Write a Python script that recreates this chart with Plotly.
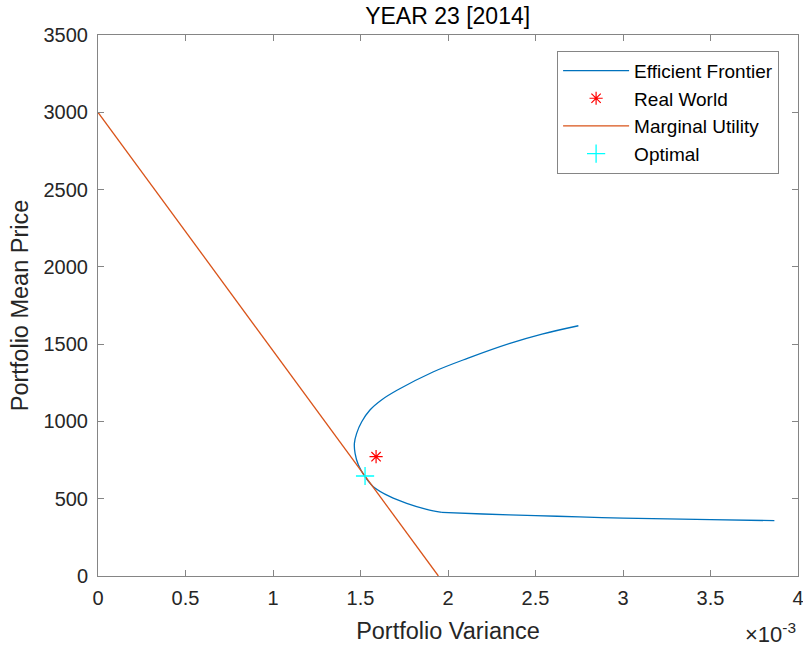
import plotly.graph_objects as go

# Efficient frontier (variance, mean price): curved part down to the kink
frontier_var = [2.745e-3, 2.537e-3, 2.354e-3, 2.111e-3, 1.914e-3, 1.711e-3, 1.620e-3, 1.554e-3,
                1.507e-3, 1.478e-3, 1.465e-3, 1.469e-3, 1.488e-3, 1.526e-3, 1.573e-3, 1.669e-3,
                1.764e-3, 1.878e-3, 1.965e-3]
frontier_mean = [1619, 1565, 1505, 1408, 1320, 1203, 1139, 1074,
                 998, 923, 858, 794, 718, 642, 578, 513,
                 470, 431, 412]
# Efficient frontier: flat tail after the kink
tail_var = [1.965e-3, 2.2e-3, 2.5e-3, 2.75e-3, 3.0e-3, 3.5e-3, 3.865e-3]
tail_mean = [412, 401, 391, 382, 375, 365, 358]

real_var = [1.589e-3]
real_mean = [772]

mu_var = [0.0, 1.945e-3]
mu_mean = [3000, 0]

opt_var = [1.526e-3]
opt_mean = [647]

x_ticks = [0, 0.5e-3, 1e-3, 1.5e-3, 2e-3, 2.5e-3, 3e-3, 3.5e-3, 4e-3]
x_ticktext = ["0", "0.5", "1", "1.5", "2", "2.5", "3", "3.5", "4"]
y_ticks = [0, 500, 1000, 1500, 2000, 2500, 3000, 3500]

FONT = "Liberation Sans, Arial, Helvetica, sans-serif"
TXT = "#262626"
AX = "#858585"
BLUE = "#0072BD"

fig = go.Figure()
fig.add_trace(go.Scatter(x=frontier_var, y=frontier_mean, mode="lines",
                         line=dict(color=BLUE, width=1.3, shape="spline", smoothing=1.0),
                         name="Efficient Frontier", legendgroup="ef"))
fig.add_trace(go.Scatter(x=real_var, y=real_mean, mode="markers",
                         marker=dict(symbol="asterisk-open", size=11, color="red",
                                     line=dict(color="red", width=1.2)), name="Real World"))
fig.add_trace(go.Scatter(x=mu_var, y=mu_mean, mode="lines",
                         line=dict(color="#D95319", width=1.3), name="Marginal Utility"))
fig.add_trace(go.Scatter(x=opt_var, y=opt_mean, mode="markers",
                         marker=dict(symbol="cross-thin-open", size=13, color="cyan",
                                     line=dict(color="cyan", width=1.3)), name="Optimal"))
fig.add_trace(go.Scatter(x=tail_var, y=tail_mean, mode="lines",
                         line=dict(color=BLUE, width=1.3, shape="spline", smoothing=0.6),
                         name="Efficient Frontier", legendgroup="ef", showlegend=False))

axis_common = dict(showline=True, linecolor=AX, linewidth=1, mirror="allticks",
                   ticks="inside", ticklen=6, tickcolor=AX, showgrid=False, zeroline=False,
                   ticklabeloverflow="allow", automargin=False,
                   tickfont=dict(family=FONT, size=20, color=TXT))

fig.update_layout(
    width=803, height=646,
    margin=dict(l=98, r=5, t=35, b=70, autoexpand=False),
    paper_bgcolor="white", plot_bgcolor="white",
    title=dict(text="YEAR 23 [2014]", x=0.5575, xanchor="center", y=0.975, yanchor="middle",
               font=dict(family=FONT, size=23, color="#000000")),
    xaxis=dict(range=[0, 4e-3], tickvals=x_ticks, ticktext=x_ticktext,
               ticklabelstandoff=4,
               title=dict(text="Portfolio Variance", standoff=14,
                          font=dict(family=FONT, size=23.5, color=TXT)),
               **axis_common),
    yaxis=dict(range=[0, 3500], tickvals=y_ticks, ticklabelstandoff=5,
               title=dict(text="Portfolio Mean Price", standoff=8,
                          font=dict(family=FONT, size=23.5, color=TXT)),
               **axis_common),
    legend=dict(x=0.973, y=0.971, xanchor="right", yanchor="top",
                bgcolor="white", bordercolor=AX, borderwidth=1,
                font=dict(family=FONT, size=19, color="#000000"),
                tracegroupgap=0, itemwidth=66),
    showlegend=True,
    annotations=[dict(text="×10<sup>-3</sup>", xref="paper", yref="paper", x=1.0, y=-0.075,
                      xanchor="right", yanchor="top", showarrow=False,
                      font=dict(family=FONT, size=22, color=TXT))],
)

fig.write_html("out.html")
